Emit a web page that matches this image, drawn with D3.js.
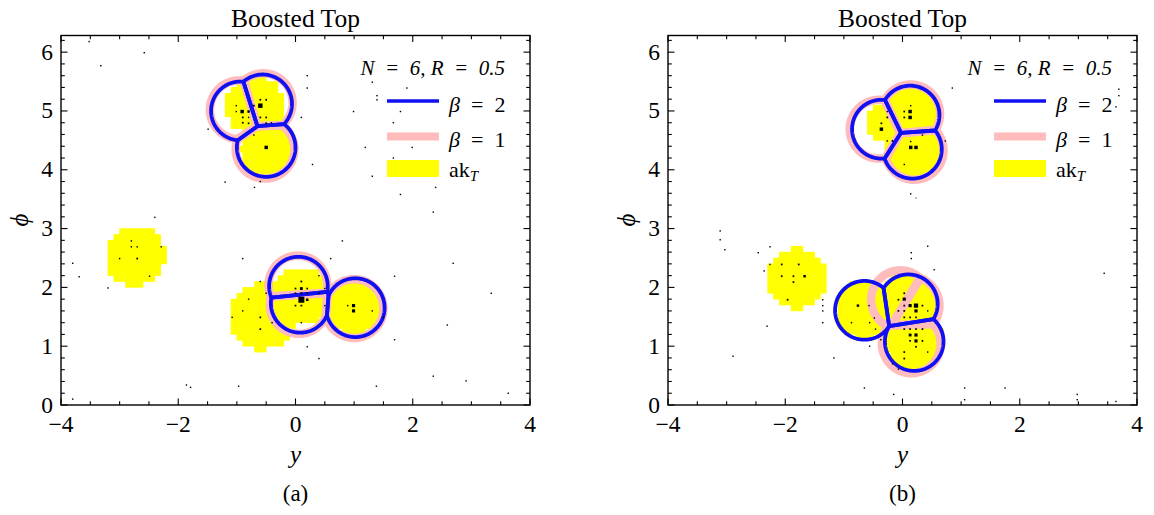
<!DOCTYPE html>
<html><head><meta charset="utf-8">
<script src="https://cdn.jsdelivr.net/npm/d3@7"></script>
<style>
html,body{margin:0;padding:0;background:#fff;}
svg{display:block;}
text{font-family:"Liberation Serif","DejaVu Serif",serif;fill:#000;}
</style></head>
<body>
<svg id="chart" width="1154" height="515"></svg>
<script>
// ---------------- DATA ----------------
const panelIds = ["a", "b"];
const titles = ["Boosted Top", "Boosted Top"];
const xTicksMajor = [-4, -2, 0, 2, 4];
const yTicksMajor = [0, 1, 2, 3, 4, 5, 6];
const jetRadius = 0.5;
const legendLabels = ["β = 2", "β = 1", "ak"];

// XCone beta=2 axes [y, phi]
const beta2A = [[-0.50, 4.38], [-0.56, 5.12], [-0.94, 5.00], [0.05, 2.02], [0.08, 1.73], [1.02, 1.655]];
const beta2B = [[-0.36, 4.69], [0.13, 4.93], [0.17, 4.35], [-0.65, 1.61], [0.10, 1.72], [0.20, 1.08]];
// XCone beta=1 axes [y, phi]
const beta1A = [[-0.52, 4.35], [-0.55, 5.14], [-0.96, 5.02], [0.04, 2.04], [0.06, 1.71], [1.00, 1.64]];
const beta1B = [[-0.40, 4.69], [0.14, 4.95], [0.20, 4.33], [-0.035, 1.79], [0.13, 1.69], [0.15, 1.04]];
// anti-kT jets [y, phi, radius of its area]
const akA = [[-2.74, 2.54, 0.51], [-0.56, 1.50, 0.56], [0.09, 1.85, 0.50], [1.00, 1.65, 0.47], [-0.68, 5.08, 0.50], [-0.46, 4.35, 0.50]];
const akB = [[-1.81, 2.15, 0.51], [-0.65, 1.61, 0.50], [0.10, 1.72, 0.50], [0.20, 1.08, 0.50], [0.13, 4.93, 0.50], [0.17, 4.35, 0.50], [-0.31, 4.80, 0.33]];
// particles [y, phi, pT]
const partA = [
 [-3.32,5.77,2],[-3.52,6.18,2],[-2.58,5.99,2],[-3.80,0.10,2],[-1.79,0.30,2],[-3.80,2.41,2],[-3.69,2.18,2],
 [1.31,5.49,2],[1.90,5.39,2],[1.39,5.26,2],[1.39,5.19,2],[0.99,4.99,2],[1.79,4.99,2],[1.67,4.80,2],[1.19,4.38,2],[1.99,4.38,2],[1.67,4.20,2],[1.31,3.89,2],[2.39,3.70,2],[1.79,3.58,2],
 [-2.40,3.19,2],[-2.80,2.79,2],[-2.80,2.69,2],[-2.70,2.69,2],[-2.29,2.69,2],[-3.00,2.49,2],[-2.70,2.49,3],[-2.49,2.19,2],[-3.20,1.99,2],
 [0.20,5.60,2],[0.20,5.39,2],[-1.01,5.09,2],[-0.91,4.99,12],[-0.80,4.99,6],[-0.60,5.09,20],[-0.71,5.09,3],[-0.60,5.19,3],[-0.50,5.19,3],[-1.01,4.99,2],[-0.90,4.89,3],[-0.80,4.89,2],[-0.90,4.80,3],[-0.80,4.79,3],[-0.60,4.89,3],[-0.50,4.89,3],[-0.50,4.79,3],[-0.41,4.80,2],[-0.71,4.59,2],[-0.50,4.38,12],[0.10,4.89,2],[-1.49,4.69,2],[0.29,4.09,2],[-1.20,3.79,2],[-0.70,3.70,2],[-0.60,3.80,2],
 [0.80,2.79,2],[-0.90,2.49,2],[0.60,2.49,2],[0.40,2.20,2],[-0.60,2.10,2],[0.10,2.10,3],[0.00,1.98,3],[0.10,1.98,8],[0.20,1.98,3],[0.50,1.98,2],[-0.50,1.90,2],[0.00,1.90,3],[0.10,1.90,3],[0.20,1.90,3],[0.40,1.90,2],[0.10,1.79,36],[0.20,1.79,6],[-0.80,1.80,2],[0.00,1.69,3],[0.10,1.69,3],[0.50,1.69,2],[-0.90,1.60,2],[0.89,1.69,2],[0.99,1.69,10],[0.99,1.60,10],[1.31,1.60,2],[-0.60,1.49,3],[-0.40,1.40,2],[0.10,1.40,2],[-1.08,1.49,2],[-0.60,1.29,3],[1.69,2.19,2],[1.69,1.11,2],[1.50,1.49,2],[0.20,0.99,2],[0.40,0.79,2],
 [2.35,3.28,2],[2.69,2.41,2],[3.34,1.90,2],[2.59,1.36,2],[2.35,0.49,2],[2.91,0.41,2],[3.63,0.20,2],[1.38,0.32,2],[-1.86,0.34,2],[-0.97,0.32,2]
];
const partB = [
 [0.85,5.39,2],[0.14,5.09,2],[0.03,4.99,3],[0.13,4.99,12],[0.03,4.89,3],[0.13,4.89,12],[-0.26,4.99,2],[-0.26,4.89,3],[-0.36,4.79,3],[-0.36,4.69,12],[-0.26,4.49,2],[-0.17,4.49,3],[0.14,4.48,2],[0.14,4.38,12],[0.23,4.38,12],[0.34,4.59,2],[0.73,4.49,2],[0.03,4.09,2],[0.14,3.59,2],[0.23,3.52,1],
 [0.43,2.70,2],[0.15,2.59,2],[0.15,2.49,2],[0.54,2.30,2],[-1.36,1.79,2],[-1.36,1.69,2],[-1.36,1.60,2],[-1.36,1.40,2],[-1.17,0.80,2],[-0.56,1.00,2],[-0.17,0.70,2],[-0.07,0.61,2],[-0.76,1.69,6],[-0.57,1.69,2],[-0.87,1.40,2],[-0.56,1.40,2],[-0.46,1.29,2],[-0.48,1.48,2],[-0.37,1.11,2],
 [0.03,1.90,3],[0.03,1.80,10],[-0.07,1.79,3],[0.13,1.69,10],[0.23,1.69,18],[0.34,1.69,3],[0.23,1.60,10],[0.03,1.69,3],[0.03,1.60,3],[-0.07,1.60,3],[0.03,1.49,3],[0.13,1.49,3],[0.23,1.49,3],[0.43,1.60,2],
 [0.03,1.29,3],[0.13,1.29,3],[0.23,1.29,3],[0.34,1.29,3],[0.13,1.19,8],[0.23,1.19,10],[0.23,1.09,10],[0.13,1.09,3],[0.34,1.09,3],[0.23,0.99,3],[0.03,0.90,3],[0.43,0.90,2],[0.03,0.79,3],
 [-2.26,2.69,2],[-2.46,2.59,2],[-2.26,2.39,2],[-2.36,2.28,2],[-2.06,2.39,3],[-1.77,2.39,3],[-2.06,2.19,3],[-1.86,2.19,3],[-1.67,2.19,6],[-1.86,2.09,3],[-1.96,1.79,3],
 [-0.65,0.29,2],[-0.15,0.18,2],[1.06,0.29,2],[1.06,0.09,2],[1.75,0.29,2],[2.98,0.18,2],[2.98,0.09,2],
 [3.69,5.37,2],[3.69,5.26,2],[3.64,5.07,2],[3.44,2.24,2],[3.64,0.06,2],
 [-3.11,2.96,2],[-3.11,2.81,2],[-3.03,2.64,2],[-2.31,1.34,2],[-2.89,0.83,2]
];

// ---------------- DRAWING ----------------
const BLUE = "#1010f2", PINK = "#ffbcbc", YELLOW = "#ffff00";
const svg = d3.select("#chart");
const panelLeft = [61, 668];
const panelW = 469;
const yTop = 35.5, yBot = 405;
const sizeScale = d3.scaleSqrt().domain([0, 36]).range([0, 6]);
const EN = "\u2002";

function clipConvex(subject, clip, site) {
  let out = subject;
  for (let i = 0; i < clip.length - 1; i++) {
    const a = clip[i], b = clip[i + 1];
    const side = p => (b[0] - a[0]) * (p[1] - a[1]) - (b[1] - a[1]) * (p[0] - a[0]);
    const sg = Math.sign(side(site)) || 1;
    const inp = out; out = [];
    if (!inp.length) break;
    for (let j = 0; j < inp.length; j++) {
      const cur = inp[j], prev = inp[(j + inp.length - 1) % inp.length];
      const dc = side(cur) * sg, dp = side(prev) * sg;
      const inter = () => { const t = dp / (dp - dc); return [prev[0] + t * (cur[0] - prev[0]), prev[1] + t * (cur[1] - prev[1])]; };
      if (dc >= 0) { if (dp < 0) out.push(inter()); out.push(cur); }
      else if (dp >= 0) out.push(inter());
    }
  }
  return out;
}
function jetRegions(axes, R) {
  const del = d3.Delaunay.from(axes, d => d[0], d => d[1]);
  const vor = del.voronoi([-8, -4, 8, 11]);
  return axes.map((a, i) => {
    const circ = d3.range(240).map(k => { const t = 2 * Math.PI * k / 240; return [a[0] + R * Math.cos(t), a[1] + R * Math.sin(t)]; });
    const cell = vor.cellPolygon(i);
    return cell ? clipConvex(circ, cell, a) : circ;
  });
}

const panels = [
  {id: panelIds[0], title: titles[0], b2: beta2A, b1: beta1A, ak: akA, parts: partA},
  {id: panelIds[1], title: titles[1], b2: beta2B, b1: beta1B, ak: akB, parts: partB}
];

panels.forEach((p, pi) => {
  const x0 = panelLeft[pi];
  const x = d3.scaleLinear().domain([-4, 4]).range([x0, x0 + panelW]);
  const y = d3.scaleLinear().domain([0, 2 * Math.PI]).range([yBot, yTop]);
  const g = svg.append("g");
  const cx = (x.range()[0] + x.range()[1]) / 2;

  const clipId = "clip" + pi;
  g.append("clipPath").attr("id", clipId).append("rect")
    .attr("x", x0).attr("y", yTop).attr("width", panelW).attr("height", yBot - yTop);
  const plot = g.append("g").attr("clip-path", `url(#${clipId})`);

  // anti-kT areas (cells of 0.1 x 0.1)
  const cells = [];
  for (let i = -40; i < 40; i++) for (let j = 0; j < 63; j++) {
    const cy = i * 0.1 + 0.05, cp = j * 0.1 + 0.05;
    if (p.ak.some(a => Math.hypot(cy - a[0], cp - a[1]) <= a[2])) cells.push([i * 0.1, j * 0.1]);
  }
  plot.append("g").selectAll("rect").data(cells).join("rect")
    .attr("x", d => x(d[0]) - 0.3).attr("y", d => y(d[1] + 0.1) - 0.3)
    .attr("width", d => x(d[0] + 0.1) - x(d[0]) + 0.6)
    .attr("height", d => y(d[1]) - y(d[1] + 0.1) + 0.6)
    .attr("fill", YELLOW);

  const line = d3.line().x(d => x(d[0])).y(d => y(d[1])).curve(d3.curveLinearClosed);
  plot.append("g").selectAll("path").data(jetRegions(p.b1, jetRadius)).join("path")
    .attr("d", line).attr("fill", "none").attr("stroke", PINK).attr("stroke-width", 8.5).attr("stroke-linejoin", "round");
  plot.append("g").selectAll("path").data(jetRegions(p.b2, jetRadius)).join("path")
    .attr("d", line).attr("fill", "none").attr("stroke", BLUE).attr("stroke-width", 3.8).attr("stroke-linejoin", "round");

  plot.append("g").selectAll("rect").data(p.parts).join("rect")
    .attr("x", d => x(d[0]) - sizeScale(d[2]) / 2).attr("y", d => y(d[1]) - sizeScale(d[2]) / 2)
    .attr("width", d => sizeScale(d[2])).attr("height", d => sizeScale(d[2]))
    .attr("fill", "#000");

  // frame
  g.append("rect").attr("x", x0).attr("y", yTop).attr("width", panelW).attr("height", yBot - yTop)
    .attr("fill", "none").attr("stroke", "#000").attr("stroke-width", 1.4);

  const xMinor = d3.range(-4, 4.001, 0.5);
  const yMinor = d3.range(0, 6.3, 0.2);
  const tg = g.append("g").attr("stroke", "#000").attr("stroke-width", 1.1);
  xMinor.forEach(v => {
    const L = xTicksMajor.some(m => Math.abs(m - v) < 1e-6) ? 6.5 : 3.8;
    tg.append("line").attr("x1", x(v)).attr("x2", x(v)).attr("y1", yBot).attr("y2", yBot - L);
    tg.append("line").attr("x1", x(v)).attr("x2", x(v)).attr("y1", yTop).attr("y2", yTop + L);
  });
  yMinor.forEach(v => {
    const L = yTicksMajor.some(m => Math.abs(m - v) < 1e-6) ? 6.5 : 3.8;
    tg.append("line").attr("y1", y(v)).attr("y2", y(v)).attr("x1", x0).attr("x2", x0 + L);
    tg.append("line").attr("y1", y(v)).attr("y2", y(v)).attr("x1", x0 + panelW).attr("x2", x0 + panelW - L);
  });

  g.append("g").selectAll("text").data(xTicksMajor).join("text")
    .attr("x", d => x(d)).attr("y", 432).attr("text-anchor", "middle").attr("font-size", 23.5)
    .text(d => d < 0 ? "\u2212" + Math.abs(d) : d);
  g.append("g").selectAll("text").data(yTicksMajor).join("text")
    .attr("x", x0 - 8).attr("y", d => y(d)).attr("dy", "0.32em").attr("text-anchor", "end").attr("font-size", 23.5)
    .text(d => d);

  g.append("text").attr("x", cx).attr("y", 27).attr("text-anchor", "middle").attr("font-size", 25.5).text(p.title);
  g.append("text").attr("x", cx).attr("y", 463).attr("text-anchor", "middle").attr("font-size", 25).attr("font-style", "italic").text("y");
  g.append("text").attr("transform", `translate(${x0 - 41},220) rotate(-90)`).attr("text-anchor", "middle").attr("dy", "0.3em")
    .attr("font-size", 25).attr("font-style", "italic").text("ϕ");
  g.append("text").attr("x", cx).attr("y", 501).attr("text-anchor", "middle").attr("font-size", 23).text(`(${p.id})`);

  // legend
  const lx = x0 + 326, lw = 52, tx = x0 + 388;
  const lg = g.append("g");
  lg.append("text").attr("x", x0 + 444).attr("y", 75).attr("text-anchor", "end").attr("font-size", 21)
    .attr("font-style", "italic").text(`N${EN}=${EN}6, R${EN}=${EN}0.5`);
  lg.append("line").attr("x1", lx).attr("x2", lx + lw).attr("y1", 101).attr("y2", 101).attr("stroke", BLUE).attr("stroke-width", 3.5);
  lg.append("line").attr("x1", lx).attr("x2", lx + lw).attr("y1", 136.5).attr("y2", 136.5).attr("stroke", PINK).attr("stroke-width", 8);
  lg.append("rect").attr("x", lx).attr("y", 160).attr("width", lw).attr("height", 17).attr("fill", YELLOW);
  [legendLabels[0], legendLabels[1]].forEach((lab, k) => {
    const t = lg.append("text").attr("x", tx).attr("y", [112, 147][k]).attr("font-size", 22);
    t.append("tspan").attr("font-style", "italic").text(lab.split(" ")[0]);
    t.append("tspan").text(`${EN}=${EN}${lab.split(" ")[2]}`);
  });
  const ak = lg.append("text").attr("x", tx).attr("y", 177).attr("font-size", 22);
  ak.append("tspan").text(legendLabels[2]);
  ak.append("tspan").attr("font-style", "italic").attr("font-size", 15).attr("dy", 4).text("T");
});
</script>
</body></html>
